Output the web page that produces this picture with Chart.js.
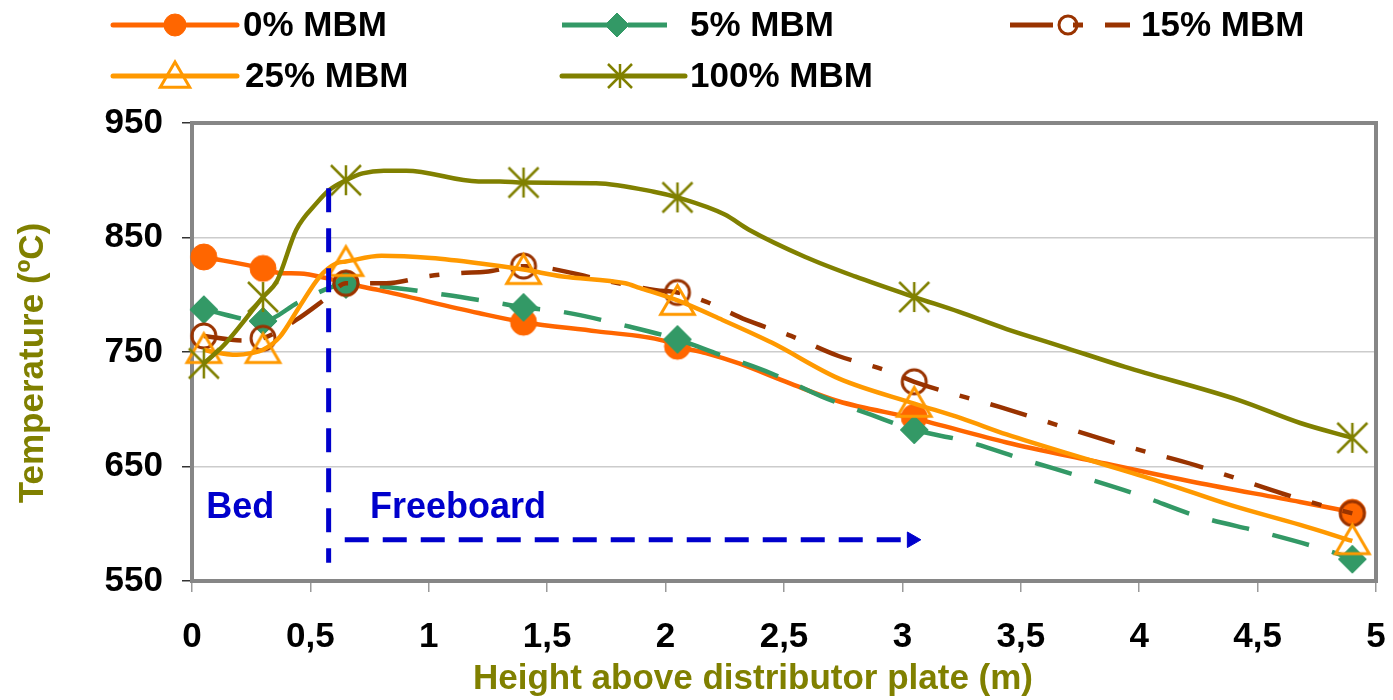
<!DOCTYPE html>
<html>
<head>
<meta charset="utf-8">
<script src="https://cdn.jsdelivr.net/npm/chart.js@4.4.1/dist/chart.umd.min.js"></script>
<style>
  html, body { margin: 0; padding: 0; background: #fff; overflow: hidden; }
  canvas { display: block; }
</style>
</head>
<body>
<canvas id="chart" width="1393" height="700"></canvas>
<script>
// Heights where the temperatures were measured (m)
const markerHeights = [0.05, 0.3, 0.65, 1.4, 2.05, 3.05, 4.9];

// Measured temperatures (ºC)
const temp0 = [833, 823, 810, 776, 755, 693, 610];
const temp5 = [787, 777, 809, 789, 761, 682, 569];
const temp15 = [764, 762, 810, 825, 802, 724, 609];
const temp25 = [752, 752, 828, 821, 794, 705, 585];
const temp100 = [740, 798, 900, 898, 885, 798, 675];

// Profile curves
const line0X = [0.05, 0.3, 0.37, 0.455, 0.567, 0.65, 0.79, 1.21, 1.4, 1.71, 1.99, 2.05, 2.17, 2.31, 2.52, 2.73, 3.05, 3.44, 3.8, 4.24, 4.68, 4.9];
const line0Y = [833, 823, 819, 818.5, 814.5, 810, 804, 784, 776, 768, 760, 755, 749, 740, 723, 707, 692, 671, 655, 636, 619, 610];

const line5X = [0.05, 0.3, 0.455, 0.65, 0.81, 1.07, 1.3, 1.4, 1.565, 1.85, 2.05, 2.21, 2.45, 2.66, 2.87, 3.05, 3.27, 3.53, 3.74, 4.0, 4.24, 4.53, 4.82, 4.9];
const line5Y = [787, 777, 794, 809, 807, 800, 792.5, 789, 785, 772, 761, 749, 731, 711, 695, 682, 672, 655, 642, 625, 607, 592, 575, 569];

const line15X = [0.05, 0.216, 0.3, 0.44, 0.567, 0.65, 0.82, 0.99, 1.13, 1.24, 1.4, 1.51, 1.71, 1.96, 2.05, 2.17, 2.34, 2.53, 2.73, 2.93, 3.05, 3.41, 3.94, 4.24, 4.61, 4.74, 4.9];
const line15Y = [764, 760, 762, 778, 797, 810, 810, 816, 819, 820, 825, 823, 814, 804, 802, 794, 778, 764, 746.5, 734, 724, 702, 668, 651, 626, 618, 609];

const line25X = [0.05, 0.09, 0.19, 0.25, 0.3, 0.37, 0.455, 0.54, 0.61, 0.65, 0.8, 1.01, 1.21, 1.4, 1.565, 1.83, 1.89, 2.05, 2.24, 2.45, 2.73, 3.05, 3.25, 3.44, 3.8, 4.1, 4.39, 4.68, 4.9];
const line25Y = [752, 750, 747.5, 749, 752, 763, 790, 816, 827.5, 829, 834, 832, 827.5, 822, 816, 810, 806, 795, 778, 758, 727, 705, 692, 678, 655, 636, 616, 599, 585];

const line100X = [0.05, 0.13, 0.3, 0.36, 0.44, 0.526, 0.58, 0.65, 0.72, 0.81, 0.905, 1.21, 1.3, 1.4, 1.706, 1.95, 2.05, 2.25, 2.35, 2.59, 2.8, 3.05, 3.24, 3.44, 3.67, 3.94, 4.42, 4.68, 4.9];
const line100Y = [740, 755, 798, 812.5, 856.6, 880, 891.5, 900, 906, 908.4, 908.4, 899, 899, 898, 897.4, 890, 885, 870, 857, 833, 816, 798, 785, 770, 755, 737, 708, 688, 675];

// Bed / freeboard annotation
const bedLineX = [0.577, 0.577];
const bedLineY = [893, 566];
const arrowX = [0.645, 3.04];
const arrowY = [586, 586];
const zoneLabels = ['Bed', 'Freeboard'];
const zoneLabelX = [0.204, 1.123];
const zoneLabelY = [614, 614];

const xTicks = [0, 0.5, 1, 1.5, 2, 2.5, 3, 3.5, 4, 4.5, 5];
const seriesNames = ['0% MBM', '5% MBM', '15% MBM', '25% MBM', '100% MBM'];

const fontFamily = '"Liberation Sans", Arial, sans-serif';
const blue = '#0000CC';
const olive = '#808000';

function pts(xs, ys) {
    return xs.map((x, i) => ({ x: x, y: ys[i] }));
}

// Excel-like marker shapes
function drawMarker(ctx, style, x, y, r, fill, stroke, lw) {
    ctx.save();
    ctx.setLineDash([]);
    ctx.lineWidth = lw;
    ctx.strokeStyle = stroke;
    ctx.fillStyle = fill;
    ctx.lineJoin = 'miter';
    ctx.beginPath();
    if (style === 'circle') {
        ctx.arc(x, y, r, 0, Math.PI * 2);
    } else if (style === 'diamond') {
        ctx.moveTo(x, y - r);
        ctx.lineTo(x + r, y);
        ctx.lineTo(x, y + r);
        ctx.lineTo(x - r, y);
        ctx.closePath();
    } else if (style === 'triangle') {
        ctx.moveTo(x, y - r);
        ctx.lineTo(x + r * 1.05, y + r * 0.8);
        ctx.lineTo(x - r * 1.05, y + r * 0.8);
        ctx.closePath();
    } else if (style === 'star') {
        ctx.moveTo(x, y - r);
        ctx.lineTo(x, y + r);
        ctx.moveTo(x - r, y - r);
        ctx.lineTo(x + r, y + r);
        ctx.moveTo(x + r, y - r);
        ctx.lineTo(x - r, y + r);
    }
    if (style !== 'star' && fill !== 'none') ctx.fill();
    ctx.stroke();
    ctx.restore();
}

function markerCanvas(style, r, fill, stroke, lw) {
    const s = Math.ceil(2 * r * 1.1 + lw + 2);
    const c = document.createElement('canvas');
    c.width = s;
    c.height = s;
    drawMarker(c.getContext('2d'), style, s / 2, s / 2, r, fill, stroke, lw);
    return c;
}

const styles = [
    { color: '#FF6600', dash: [], marker: 'circle', r: 13, fill: '#FF6600', lw: 1, lr: 11 },
    { color: '#339966', dash: [38, 24], marker: 'diamond', r: 14, fill: '#339966', lw: 1, lr: 12 },
    { color: '#993300', dash: [38, 22, 10, 22], marker: 'circle', r: 12, fill: 'none', lw: 3, lr: 9 },
    { color: '#FF9900', dash: [], marker: 'triangle', r: 16, fill: 'none', lw: 3, lr: 14 },
    { color: '#808000', dash: [], marker: 'star', r: 15, fill: 'none', lw: 2.5, lr: 12 }
];

const lineData = [pts(line0X, line0Y), pts(line5X, line5Y), pts(line15X, line15Y), pts(line25X, line25Y), pts(line100X, line100Y)];
const markerData = [temp0, temp5, temp15, temp25, temp100].map(t => pts(markerHeights, t));

// Drawing order like Excel: each series' line then its markers, 0% at the bottom
const datasets = [];
styles.forEach((st, i) => {
    datasets.push({
        label: seriesNames[i] + ' line',
        data: lineData[i],
        borderColor: st.color,
        borderWidth: 4.5,
        borderDash: st.dash,
        borderCapStyle: 'butt',
        borderJoinStyle: 'round',
        cubicInterpolationMode: 'monotone',
        pointRadius: 0,
        fill: false,
        order: 20 - i * 2
    });
    datasets.push({
        label: seriesNames[i],
        data: markerData[i],
        showLine: false,
        pointStyle: markerCanvas(st.marker, st.r, st.fill, st.color, st.lw),
        pointRadius: st.r,
        clip: false,
        order: 19 - i * 2
    });
});

datasets.push({
    label: 'bed',
    data: pts(bedLineX, bedLineY),
    borderColor: blue,
    borderWidth: 5,
    borderDash: [24, 16],
    pointRadius: 0,
    order: 1
});
datasets.push({
    label: 'freeboard',
    data: pts(arrowX, arrowY),
    borderColor: blue,
    backgroundColor: blue,
    borderWidth: 5,
    borderDash: [24, 14],
    pointStyle: 'triangle',
    rotation: 90,
    pointRadius: [0, 9],
    pointBorderWidth: 1,
    order: 0
});

const decorPlugin = {
    id: 'decor',
    beforeDatasetsDraw(chart) {
        const { ctx, chartArea: a } = chart;
        ctx.save();
        ctx.strokeStyle = '#868686';
        ctx.lineWidth = 4;
        ctx.strokeRect(a.left, a.top, a.right - a.left, a.bottom - a.top);
        ctx.restore();
    },
    afterDraw(chart) {
        const { ctx, chartArea: a, scales } = chart;
        ctx.save();

        // Bed / Freeboard labels
        ctx.fillStyle = blue;
        ctx.font = 'bold 36px ' + fontFamily;
        ctx.textAlign = 'center';
        ctx.textBaseline = 'middle';
        zoneLabels.forEach((t, i) => {
            ctx.fillText(t, scales.x.getPixelForValue(zoneLabelX[i]), scales.y.getPixelForValue(zoneLabelY[i]));
        });

        // axis titles
        ctx.fillStyle = olive;
        ctx.font = 'bold 35px ' + fontFamily;
        ctx.fillText('Height above distributor plate (m)', a.left + 561, 679);
        ctx.save();
        ctx.translate(33, 363);
        ctx.rotate(-Math.PI / 2);
        ctx.fillText('Temperature (ºC)', 0, 0);
        ctx.restore();

        // legend: line with marker, then label
        const items = [
            { x1: 113, x2: 237, mx: 175, tx: 243, y: 25 },
            { x1: 562, x2: 667, mx: 617, tx: 690, y: 25 },
            { x1: 1010, x2: 1130, mx: 1068, tx: 1141, y: 25 },
            { x1: 113, x2: 237, mx: 175, tx: 245, y: 76 },
            { x1: 562, x2: 685, mx: 620, tx: 690, y: 76 }
        ];
        ctx.textAlign = 'left';
        ctx.font = 'bold 35px ' + fontFamily;
        items.forEach((it, i) => {
            const st = styles[i];
            ctx.save();
            ctx.strokeStyle = st.color;
            ctx.lineWidth = 5;
            ctx.lineCap = st.dash.length ? 'butt' : 'round';
            ctx.setLineDash(st.dash.length ? (i === 2 ? [43, 20, 10, 22] : [46, 20]) : []);
            ctx.beginPath();
            ctx.moveTo(it.x1, it.y);
            ctx.lineTo(it.x2, it.y);
            ctx.stroke();
            ctx.restore();
            drawMarker(ctx, st.marker, it.mx, it.y, st.lr, st.fill === 'none' ? 'none' : st.fill, st.color, st.lw);
            ctx.fillStyle = '#000';
            ctx.fillText(seriesNames[i], it.tx, it.y + 1);
        });

        ctx.restore();
    }
};

new Chart(document.getElementById('chart'), {
    type: 'line',
    data: { datasets: datasets },
    options: {
        responsive: false,
        animation: false,
        events: [],
        layout: { padding: { top: 123, right: 15, left: 0, bottom: 0 } },
        plugins: {
            legend: { display: false },
            tooltip: { enabled: false }
        },
        scales: {
            x: {
                type: 'linear',
                min: 0,
                max: 5,
                afterBuildTicks: scale => { scale.ticks = xTicks.map(v => ({ value: v })); },
                afterFit: scale => {
                    scale.height = 119;
                    scale.paddingLeft = 0;
                    scale.paddingRight = 0;
                },
                ticks: {
                    color: '#000',
                    padding: 24,
                    maxRotation: 0,
                    font: { family: fontFamily, size: 35, weight: 'bold' },
                    callback: v => String(v).replace('.', ',')
                },
                grid: {
                    drawOnChartArea: false,
                    drawTicks: true,
                    tickLength: 11,
                    color: '#9a9a9a',
                    lineWidth: 1.5
                },
                border: { display: false }
            },
            y: {
                min: 550,
                max: 950,
                afterFit: scale => { scale.width = 192; },
                ticks: {
                    stepSize: 100,
                    color: '#000',
                    padding: 19,
                    font: { family: fontFamily, size: 35, weight: 'bold' }
                },
                grid: {
                    color: '#cccccc',
                    lineWidth: 1.5,
                    tickLength: 10,
                    tickColor: '#333333',
                    tickWidth: 1.5
                },
                border: { display: false }
            }
        }
    },
    plugins: [decorPlugin]
});
</script>
</body>
</html>
